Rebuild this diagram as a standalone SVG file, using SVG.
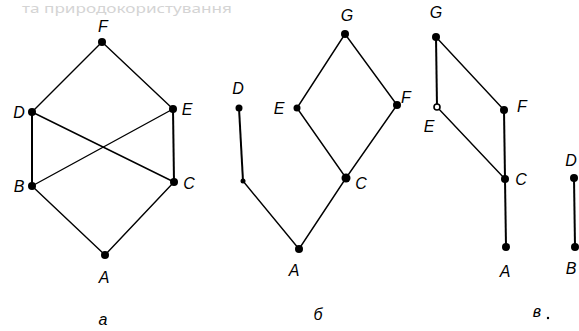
<svg xmlns="http://www.w3.org/2000/svg" width="579" height="331" viewBox="0 0 579 331">
<style>
.e{stroke:#000;stroke-width:1.4;fill:none;stroke-linecap:round}
.v{stroke:#000;stroke-width:2;fill:none}
.n{fill:#000}
.h{fill:#fff;stroke:#000;stroke-width:1.6}
.t{font-family:"Liberation Sans",Arial,sans-serif;font-style:italic;font-size:16px;fill:#000;text-anchor:middle}
.w{font-family:"Noto Sans","Open Sans",sans-serif;font-size:13px;fill:#d4d4d4}
</style>
<rect width="579" height="331" fill="#fff"/>
<text class="w" x="22" y="13" textLength="210" lengthAdjust="spacingAndGlyphs">та природокористування</text>
<g id="connectors">
<line class="e" x1="102" y1="42" x2="32" y2="112"/>
<line class="e" x1="102" y1="42" x2="173" y2="109"/>
<line class="v" x1="32" y1="112" x2="32" y2="186"/>
<line class="v" x1="173" y1="109" x2="174" y2="182"/>
<line class="e" x1="32" y1="112" x2="174" y2="182"/>
<line class="e" x1="173" y1="109" x2="32" y2="186"/>
<line class="e" x1="32" y1="186" x2="105" y2="255"/>
<line class="e" x1="174" y1="182" x2="105" y2="255"/>
<line class="e" x1="345" y1="34" x2="297" y2="108"/>
<line class="e" x1="345" y1="34" x2="397" y2="105"/>
<line class="e" x1="297" y1="108" x2="346" y2="178"/>
<line class="e" x1="397" y1="105" x2="346" y2="178"/>
<line class="e" x1="346" y1="178" x2="299" y2="249"/>
<line class="e" x1="243" y1="181" x2="299" y2="249"/>
<line class="v" x1="239" y1="108" x2="243" y2="181"/>
<line class="v" x1="436" y1="37" x2="437" y2="107"/>
<line class="e" x1="436" y1="37" x2="504" y2="110"/>
<line class="e" x1="437" y1="107" x2="505" y2="179"/>
<line class="v" x1="504" y1="110" x2="505" y2="179"/>
<line class="v" x1="505" y1="179" x2="506" y2="247"/>
<line class="v" x1="574" y1="178" x2="575" y2="247"/>
</g>
<g id="a-F"><circle class="n" cx="102" cy="42" r="4"/><text class="t" x="103" y="32">F</text></g>
<g id="a-D"><circle class="n" cx="32" cy="112" r="4"/><text class="t" x="19" y="118">D</text></g>
<g id="a-E"><circle class="n" cx="173" cy="109" r="4"/><text class="t" x="187" y="115">E</text></g>
<g id="a-B"><circle class="n" cx="32" cy="186" r="4"/><text class="t" x="19" y="192">B</text></g>
<g id="a-C"><circle class="n" cx="174" cy="182" r="4"/><text class="t" x="189" y="189">C</text></g>
<g id="a-A"><circle class="n" cx="105" cy="255" r="4"/><text class="t" x="104" y="283">A</text></g>
<text class="t" x="103" y="325">a</text>
<g id="b-G"><circle class="n" cx="345" cy="34" r="4"/><text class="t" x="347" y="21">G</text></g>
<g id="b-D"><circle class="n" cx="239" cy="108" r="3.5"/><text class="t" x="238" y="94">D</text></g>
<g id="b-E"><circle class="n" cx="297" cy="108" r="3.5"/><text class="t" x="279" y="114">E</text></g>
<g id="b-F"><circle class="n" cx="397" cy="105" r="4"/><text class="t" x="406" y="103">F</text></g>
<g id="b-B"><circle class="n" cx="243" cy="181" r="2.5"/></g>
<g id="b-C"><circle class="n" cx="346" cy="178" r="4.5"/><text class="t" x="361" y="189">C</text></g>
<g id="b-A"><circle class="n" cx="299" cy="249" r="4"/><text class="t" x="294" y="276">A</text></g>
<text class="t" x="318" y="320">б</text>
<g id="c-G"><circle class="n" cx="436" cy="37" r="4"/><text class="t" x="436" y="18">G</text></g>
<g id="c-E"><circle class="h" cx="437" cy="107" r="3"/><text class="t" x="429" y="132">E</text></g>
<g id="c-F"><circle class="n" cx="504" cy="110" r="4"/><text class="t" x="522" y="112">F</text></g>
<g id="c-C"><circle class="n" cx="505" cy="179" r="4"/><text class="t" x="521" y="185">C</text></g>
<g id="c-A"><circle class="n" cx="506" cy="247" r="4"/><text class="t" x="505" y="277">A</text></g>
<g id="c-D"><circle class="n" cx="574" cy="178" r="4"/><text class="t" x="571" y="166">D</text></g>
<g id="c-B"><circle class="n" cx="575" cy="247" r="4"/><text class="t" x="571" y="274">B</text></g>
<text class="t" x="537" y="317">в</text>
<circle class="n" cx="548" cy="318" r="1.2"/>
</svg>
